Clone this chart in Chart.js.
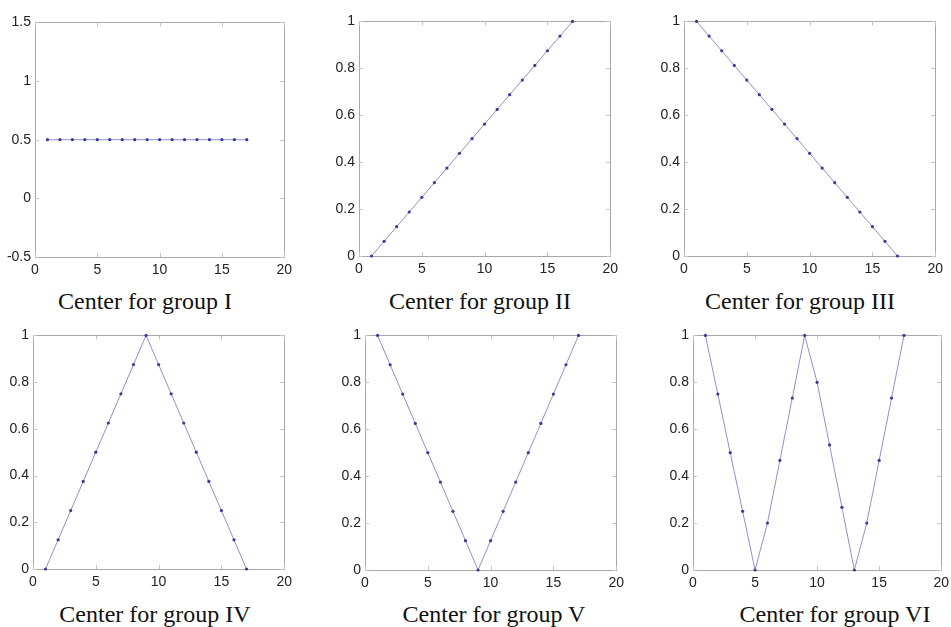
<!DOCTYPE html>
<html>
<head>
<meta charset="utf-8">
<script src="https://cdn.jsdelivr.net/npm/chart.js@4/dist/chart.umd.min.js"></script>
<style>
  html, body { margin: 0; padding: 0; background: #ffffff; }
  body { width: 951px; height: 627px; position: relative; overflow: hidden; }
  canvas { position: absolute; }
  .ttl { position: absolute; font-family: "Liberation Serif", "Times New Roman", serif; font-size: 24px; line-height: 24px; color: #111; white-space: nowrap; transform: translateX(-50%); }
</style>
</head>
<body>
<script>
// ---- data ----
const xValues = [1, 2, 3, 4, 5, 6, 7, 8, 9, 10, 11, 12, 13, 14, 15, 16, 17];
const groupI   = [0.5, 0.5, 0.5, 0.5, 0.5, 0.5, 0.5, 0.5, 0.5, 0.5, 0.5, 0.5, 0.5, 0.5, 0.5, 0.5, 0.5];
const groupII  = [0, 0.0625, 0.125, 0.1875, 0.25, 0.3125, 0.375, 0.4375, 0.5, 0.5625, 0.625, 0.6875, 0.75, 0.8125, 0.875, 0.9375, 1];
const groupIII = [1, 0.9375, 0.875, 0.8125, 0.75, 0.6875, 0.625, 0.5625, 0.5, 0.4375, 0.375, 0.3125, 0.25, 0.1875, 0.125, 0.0625, 0];
const groupIV  = [0, 0.125, 0.25, 0.375, 0.5, 0.625, 0.75, 0.875, 1, 0.875, 0.75, 0.625, 0.5, 0.375, 0.25, 0.125, 0];
const groupV   = [1, 0.875, 0.75, 0.625, 0.5, 0.375, 0.25, 0.125, 0, 0.125, 0.25, 0.375, 0.5, 0.625, 0.75, 0.875, 1];
const groupVI  = [1, 0.75, 0.5, 0.25, 0, 0.2, 0.467, 0.733, 1, 0.8, 0.533, 0.267, 0, 0.2, 0.467, 0.733, 1];
const titles = ["Center for group I", "Center for group II", "Center for group III",
                "Center for group IV", "Center for group V", "Center for group VI"];
const xTicks = [0, 5, 10, 15, 20];
const yTicksWide = [-0.5, 0, 0.5, 1, 1.5];
const yTicksUnit = [0, 0.2, 0.4, 0.6, 0.8, 1];
const xTickLabels = ["0", "5", "10", "15", "20"];
const yTickLabelsWide = ["-0.5", "0", "0.5", "1", "1.5"];
const yTickLabelsUnit = ["0", "0.2", "0.4", "0.6", "0.8", "1"];

// ---- layout (page pixels of each plot box and its caption) ----
const series = [groupI, groupII, groupIII, groupIV, groupV, groupVI];
const yTickSets = [yTicksWide, yTicksUnit, yTicksUnit, yTicksUnit, yTicksUnit, yTicksUnit];
const yLabelSets = [yTickLabelsWide, yTickLabelsUnit, yTickLabelsUnit, yTickLabelsUnit, yTickLabelsUnit, yTickLabelsUnit];
const boxes = [
  {L: 35,  T: 22,  R: 285, B: 257, tx: 145, ty: 289},
  {L: 359, T: 21,  R: 611, B: 256, tx: 480, ty: 289},
  {L: 684, T: 21,  R: 936, B: 256, tx: 800, ty: 289},
  {L: 33,  T: 335, R: 285, B: 569, tx: 155, ty: 602},
  {L: 365, T: 335, R: 617, B: 570, tx: 494, ty: 602},
  {L: 693, T: 335, R: 942, B: 570, tx: 835, ty: 602}
];
const AXW = 40, AXH = 22, PADT = 12, PADR = 12;
const tickFont = { family: "'Liberation Sans Narrow', 'Arial Narrow', 'Liberation Sans', Arial, sans-serif", size: 14 };

const boxPlugin = {
  id: 'matlabBox',
  beforeDatasetsDraw(chart) {
    const { ctx, chartArea: a, scales } = chart;
    ctx.save();
    ctx.strokeStyle = '#a8a8a8';
    ctx.lineWidth = 1;
    ctx.strokeRect(Math.round(a.left) + 0.5, Math.round(a.top) + 0.5,
                   Math.round(a.right - a.left), Math.round(a.bottom - a.top));
    ctx.strokeStyle = '#c4c4c4';
    const tl = 4;
    ctx.beginPath();
    scales.x.ticks.forEach(t => {
      const px = Math.round(scales.x.getPixelForValue(t.value)) + 0.5;
      ctx.moveTo(px, a.bottom); ctx.lineTo(px, a.bottom - tl);
      ctx.moveTo(px, a.top); ctx.lineTo(px, a.top + tl);
    });
    scales.y.ticks.forEach(t => {
      const py = Math.round(scales.y.getPixelForValue(t.value)) + 0.5;
      ctx.moveTo(a.left, py); ctx.lineTo(a.left + tl, py);
      ctx.moveTo(a.right, py); ctx.lineTo(a.right - tl, py);
    });
    ctx.stroke();
    ctx.restore();
  }
};

series.forEach((ys, i) => {
  const b = boxes[i];
  const cv = document.createElement('canvas');
  const w = (b.R - b.L) + AXW + PADR;
  const h = (b.B - b.T) + PADT + AXH;
  cv.width = w; cv.height = h;
  cv.style.left = (b.L - AXW) + 'px';
  cv.style.top = (b.T - PADT) + 'px';
  cv.style.width = w + 'px'; cv.style.height = h + 'px';
  document.body.appendChild(cv);

  const yt = yTickSets[i];
  const yl = yLabelSets[i];
  new Chart(cv, {
    type: 'line',
    data: {
      datasets: [{
        data: xValues.map((x, k) => ({ x: x, y: ys[k] })),
        borderColor: '#9090cc',
        borderWidth: 1,
        pointRadius: 1.6,
        pointBackgroundColor: '#3a3a9c',
        pointBorderColor: '#3a3a9c',
        pointBorderWidth: 0,
        tension: 0,
        fill: false,
        clip: false
      }]
    },
    options: {
      responsive: false,
      animation: false,
      events: [],
      layout: { padding: { top: PADT, right: PADR, left: 0, bottom: 0 } },
      plugins: { legend: { display: false }, tooltip: { enabled: false }, title: { display: false } },
      scales: {
        x: {
          type: 'linear',
          min: xTicks[0], max: xTicks[xTicks.length - 1],
          afterBuildTicks: s => { s.ticks = xTicks.map(v => ({ value: v })); },
          afterFit: s => { s.height = AXH; },
          grid: { display: false, drawTicks: false },
          border: { display: false },
          ticks: { font: tickFont, color: '#222', padding: 5, maxRotation: 0, autoSkip: false,
                   callback: (v, idx) => xTickLabels[idx] }
        },
        y: {
          type: 'linear',
          min: yt[0], max: yt[yt.length - 1],
          afterBuildTicks: s => { s.ticks = yt.map(v => ({ value: v })); },
          afterFit: s => { s.width = AXW; },
          grid: { display: false, drawTicks: false },
          border: { display: false },
          ticks: { font: tickFont, color: '#222', padding: 4, autoSkip: false,
                   callback: (v, idx) => yl[idx] }
        }
      }
    },
    plugins: [boxPlugin]
  });

  const t = document.createElement('div');
  t.className = 'ttl';
  t.textContent = titles[i];
  t.style.left = b.tx + 'px';
  t.style.top = b.ty + 'px';
  document.body.appendChild(t);
});
</script>
</body>
</html>
